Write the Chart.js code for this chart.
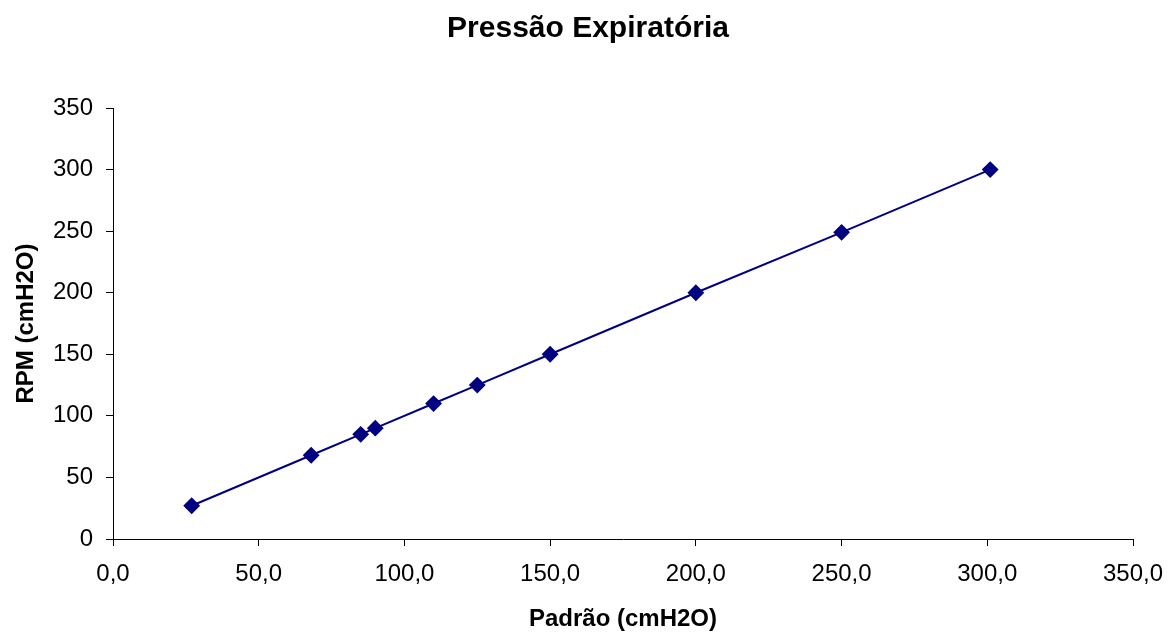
<!DOCTYPE html>
<html>
<head>
<meta charset="utf-8">
<script src="https://cdn.jsdelivr.net/npm/chart.js@4/dist/chart.umd.min.js"></script>
<style>
  html, body { margin: 0; padding: 0; background: #fff; }
  #wrap { width: 1176px; height: 634px; }
</style>
</head>
<body>
<div id="wrap"><canvas id="pressao-chart" width="1176" height="634"></canvas></div>
<script>
const padrao = [27, 68, 85, 90, 110, 125, 150, 200, 250, 301];
const rpm = [27, 68, 85, 90, 110, 125, 150, 200, 249, 300];
const xTicks = [0, 50, 100, 150, 200, 250, 300, 350];
const yTicks = [0, 50, 100, 150, 200, 250, 300, 350];

const FONT = "'Liberation Sans', Arial, sans-serif";
const navy = '#000080';

const points = padrao.map((x, i) => ({ x: x, y: rpm[i] }));

const ctx = document.getElementById('pressao-chart').getContext('2d');
const chart = new Chart(ctx, {
    type: 'scatter',
    data: {
        datasets: [{
            data: points,
            showLine: true,
            borderColor: navy,
            backgroundColor: navy,
            borderWidth: 2,
            pointStyle: 'rectRot',
            pointRadius: 7,
            pointHoverRadius: 7
        }]
    },
    options: {
        responsive: false,
        animation: false,
        layout: { padding: 0 },
        plugins: {
            legend: { display: false },
            tooltip: { enabled: false },
            title: {
                display: true,
                text: 'Pressão Expiratória',
                color: '#000',
                font: { family: FONT, size: 30, weight: 'bold' },
                padding: { top: 11, bottom: 61 }
            }
        },
        scales: {
            x: {
                type: 'linear',
                min: 0,
                max: 350,
                afterBuildTicks: axis => { axis.ticks = xTicks.map(v => ({ value: v })); },
                afterFit: axis => {
                    axis.height = 95;
                    axis.paddingRight = 43;
                },
                grid: { drawOnChartArea: false, drawTicks: true, tickLength: 7, color: '#000' },
                border: { color: '#000', width: 1 },
                ticks: {
                    color: '#000',
                    font: { family: FONT, size: 24 },
                    padding: 14,
                    maxRotation: 0,
                    callback: v => v.toFixed(1).replace('.', ',')
                },
                title: {
                    display: true,
                    text: 'Padrão (cmH2O)',
                    color: '#000',
                    font: { family: FONT, size: 24, weight: 'bold' },
                    padding: { top: 10, bottom: 0 }
                }
            },
            y: {
                type: 'linear',
                min: 0,
                max: 350,
                afterBuildTicks: axis => { axis.ticks = yTicks.map(v => ({ value: v })); },
                afterFit: axis => { axis.width = 113; },
                grid: { drawOnChartArea: false, drawTicks: true, tickLength: 7, color: '#000' },
                border: { color: '#000', width: 1 },
                ticks: {
                    color: '#000',
                    font: { family: FONT, size: 24 },
                    padding: 13
                },
                title: {
                    display: true,
                    text: 'RPM (cmH2O)',
                    color: '#000',
                    font: { family: FONT, size: 24, weight: 'bold' },
                    padding: { top: 12, bottom: 10 }
                }
            }
        }
    }
});
</script>
</body>
</html>
